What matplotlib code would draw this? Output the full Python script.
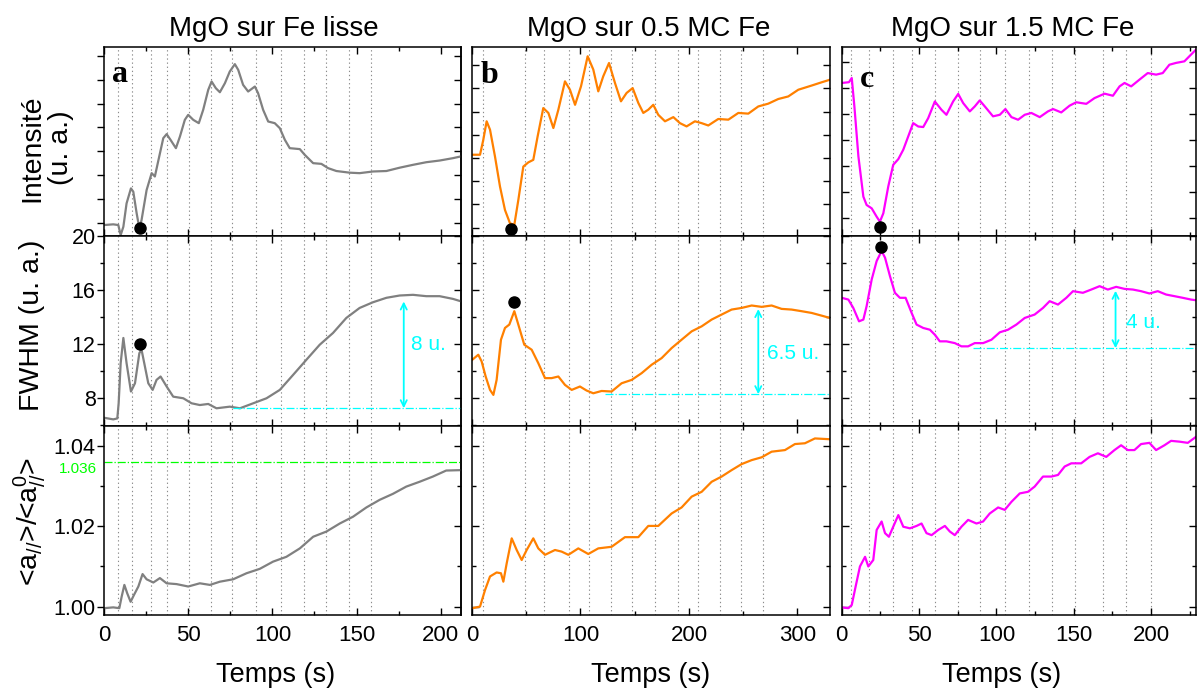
import numpy as np
import matplotlib
matplotlib.use('Agg')
import matplotlib.pyplot as plt
import matplotlib.transforms as mtrans
from matplotlib.ticker import MultipleLocator, NullFormatter, FormatStrFormatter

plt.rcParams['font.family'] = ['Liberation Sans', 'DejaVu Sans']
plt.rcParams['mathtext.fontset'] = 'custom'
plt.rcParams['mathtext.rm'] = 'Liberation Sans'
plt.rcParams['mathtext.it'] = 'Liberation Sans:italic'

# ---- column a : MgO sur Fe lisse ----
t_a_int = [0, 5.5, 8.5, 9.9, 11.5, 13.4, 16.0, 17.4, 19.4, 21.0, 22.3, 25.3, 28.3, 30.2, 32.8, 35.2, 37.2,
           39.5, 42.7, 45.1, 48.0, 50.0, 53.0, 56.3, 58.9, 61.9, 63.9, 66.4, 68.8, 71.8, 74.7, 77.7, 79.7,
           82.6, 85.6, 89.6, 91.5, 94.5, 97.5, 101.4, 104.4, 107.4, 110.3, 116.3, 119.2, 124.2, 129.1,
           133.1, 138.0, 145.9, 151.8, 159.7, 167.7, 175.6, 183.5, 191.4, 199.3, 207.2, 211.7]
int_a = [-0.10, -0.07, -0.10, -0.52, -0.17, 0.81, 1.44, 1.30, 0.39, -0.24, 0.11, 1.37, 2.08, 1.94, 2.78, 3.55,
         3.72, 3.48, 3.13, 3.62, 4.32, 4.53, 4.32, 4.18, 4.74, 5.58, 5.93, 5.65, 5.48, 5.86, 6.35, 6.66, 6.42,
         5.79, 5.51, 5.72, 5.44, 4.74, 4.25, 4.18, 3.97, 3.48, 3.13, 3.09, 2.85, 2.50, 2.47, 2.29, 2.17, 2.10,
         2.08, 2.15, 2.17, 2.31, 2.43, 2.54, 2.61, 2.71, 2.78]
t_a_fw = [0, 5.5, 7.9, 8.7, 9.9, 11.5, 13.4, 16.0, 18.4, 21.0, 22.3, 23.9, 26.3, 28.9, 31.2, 33.6, 37.2,
          41.1, 47.1, 52.0, 56.9, 61.9, 66.8, 74.7, 80.7, 88.6, 96.5, 104.4, 112.3, 120.2, 128.1, 136.0,
          143.9, 151.8, 159.7, 167.7, 175.6, 183.5, 191.4, 199.3, 207.2, 211.7]
fwhm_a = [6.56, 6.44, 6.51, 7.63, 10.6, 12.46, 10.6, 8.50, 9.11, 11.34, 11.59, 10.6, 9.11, 8.62, 9.36, 9.61,
          8.87, 8.12, 8.0, 7.63, 7.50, 7.58, 7.26, 7.38, 7.26, 7.63, 8.0, 8.62, 9.73, 10.85, 11.96, 12.83,
          13.94, 14.68, 15.10, 15.43, 15.60, 15.65, 15.55, 15.55, 15.35, 15.18]
t_a_r = [0, 5.5, 9.1, 10.5, 12.1, 13.8, 15.8, 17.8, 20.4, 22.9, 25.3, 29.3, 33.2, 37.2, 43.1, 50.0, 56.9,
         62.9, 68.8, 76.7, 84.6, 92.5, 100.4, 108.3, 116.3, 124.2, 132.1, 140.0, 147.9, 155.8, 163.7,
         171.6, 179.5, 187.4, 195.3, 203.2, 211.7]
ratio_a = [0.9996, 0.9998, 0.9996, 1.0025, 1.0054, 1.0033, 1.0012, 1.0029, 1.0050, 1.0081, 1.0068, 1.0060,
           1.0071, 1.0058, 1.0056, 1.0050, 1.0058, 1.0054, 1.0062, 1.0068, 1.0083, 1.0094, 1.0112, 1.0124,
           1.0145, 1.0174, 1.0187, 1.0207, 1.0224, 1.0247, 1.0266, 1.0281, 1.0299, 1.0311, 1.0324, 1.0339,
           1.0340]
grid_a = [8.5, 16.4, 27.9, 37.6, 50.2, 63.5, 76.1, 90.2, 105, 118.8, 131.7, 145.5, 158.8]

# ---- column b : MgO sur 0.5 MC Fe ----
t_b_int = [0.3, 7.4, 10.4, 13.5, 16.6, 21.2, 25.8, 30.4, 35.0, 39.0, 42.7, 47.3, 51.9, 56.5, 60.5, 65.7,
           70.4, 75.0, 79.6, 85.7, 90.3, 95.0, 100.5, 106.6, 111.8, 116.4, 121.0, 126.3, 131.8, 137.3, 142.5,
           148.1, 153.3, 157.9, 162.5, 167.1, 171.7, 177.9, 185.6, 191.7, 197.8, 205.5, 211.7, 217.8, 227.0,
           236.3, 245.5, 254.7, 263.9, 273.1, 282.3, 291.5, 300.8, 313.1, 322.3, 329.9]
int_b = [3.14, 3.14, 3.78, 4.58, 4.22, 3.06, 1.77, 0.76, 0.19, 0.12, 1.19, 2.63, 2.81, 2.92, 3.93, 5.15,
         4.94, 4.29, 5.08, 6.30, 5.94, 5.29, 6.09, 7.38, 6.81, 5.87, 6.52, 7.09, 6.23, 5.44, 5.80, 6.01, 5.37,
         4.94, 5.08, 5.29, 4.86, 4.58, 4.76, 4.50, 4.36, 4.58, 4.50, 4.40, 4.68, 4.65, 4.94, 4.91, 5.22, 5.34,
         5.54, 5.65, 5.94, 6.12, 6.26, 6.37]
t_b_fw = [0.3, 5.8, 8.9, 12.6, 16.6, 19.7, 22.7, 26.7, 30.4, 34.4, 39.0, 42.7, 48.2, 55.0, 61.1, 67.3,
          73.4, 79.6, 85.7, 91.9, 99.5, 105.7, 111.8, 119.5, 128.7, 137.9, 147.2, 156.4, 165.6, 174.8, 184.0,
          193.2, 202.5, 211.7, 220.9, 230.1, 239.3, 248.5, 257.8, 267.0, 276.2, 285.4, 294.6, 303.8, 313.1,
          322.3, 329.9]
fwhm_b = [10.85, 11.22, 10.72, 9.61, 8.62, 8.25, 9.36, 12.33, 13.20, 13.45, 14.44, 13.45, 11.96, 11.59,
          10.60, 9.49, 9.49, 9.61, 8.99, 8.62, 8.87, 8.57, 8.37, 8.54, 8.50, 9.11, 9.36, 9.86, 10.48, 10.97,
          11.71, 12.33, 12.95, 13.32, 13.82, 14.19, 14.56, 14.68, 14.86, 14.76, 14.86, 14.61, 14.56, 14.44,
          14.31, 14.11, 13.94]
t_b_r = [0.3, 7.4, 12.0, 16.6, 22.7, 26.7, 28.9, 32.0, 36.6, 41.2, 45.8, 50.4, 56.5, 61.1, 67.3, 76.5,
         82.6, 88.8, 98.0, 107.2, 116.4, 128.7, 141.0, 153.3, 162.5, 171.7, 184.0, 193.2, 202.5, 211.7, 220.9,
         230.1, 239.3, 248.5, 257.8, 267.0, 276.2, 288.5, 297.7, 306.9, 316.1, 329.9]
ratio_b = [0.9996, 1.0000, 1.0041, 1.0075, 1.0085, 1.0083, 1.0062, 1.0108, 1.0170, 1.0141, 1.0116, 1.0141,
           1.0170, 1.0145, 1.0129, 1.0141, 1.0137, 1.0129, 1.0145, 1.0131, 1.0145, 1.0149, 1.0173, 1.0173,
           1.0201, 1.0201, 1.0232, 1.0247, 1.0274, 1.0286, 1.0311, 1.0324, 1.0340, 1.0355, 1.0365, 1.0372,
           1.0386, 1.0390, 1.0405, 1.0407, 1.0419, 1.0417]
grid_b = [10.4, 49, 66.1, 89.1, 107.6, 127.9, 147.8, 169, 190.2, 208.6, 228.3, 247.9, 267.9]

# ---- column c : MgO sur 1.5 MC Fe ----
t_c_int = [0, 4.7, 6.5, 8.2, 10.8, 14.0, 16.1, 19.4, 22.6, 24.7, 26.9, 30.1, 33.3, 36.6, 39.8, 43.0, 46.2,
           49.5, 52.7, 55.9, 60.2, 64.5, 67.7, 72.0, 75.3, 78.5, 82.8, 86.0, 89.2, 92.5, 97.8, 102.2, 105.8,
           109.7, 114.0, 118.3, 122.6, 128.0, 133.3, 136.6, 141.9, 147.3, 151.6, 158.1, 163.4, 169.9, 175.3,
           179.6, 182.8, 187.1, 192.5, 197.8, 203.2, 207.5, 211.8, 216.1, 221.5, 225.8, 229.0]
int_c = [5.18, 5.21, 5.37, 4.28, 2.36, 0.82, 0.50, 0.37, 0.05, -0.14, 0.18, 1.21, 2.04, 2.26, 2.62, 3.13,
         3.64, 3.51, 3.49, 3.83, 4.47, 4.15, 3.96, 4.47, 4.76, 4.41, 4.09, 4.28, 4.51, 4.28, 3.90, 3.96, 4.18,
         3.87, 3.77, 3.96, 4.03, 3.87, 4.09, 4.18, 4.05, 4.31, 4.44, 4.38, 4.60, 4.77, 4.69, 5.05, 5.18, 5.05,
         5.31, 5.56, 5.50, 5.56, 5.88, 5.95, 6.01, 6.27, 6.46]
t_c_fw = [0, 4.3, 7.5, 11.2, 14.0, 16.1, 19.4, 22.6, 25.8, 28.0, 31.2, 34.4, 37.6, 41.3, 45.2, 48.4, 52.7,
          57.0, 60.2, 63.4, 67.7, 73.1, 77.4, 81.7, 86.0, 91.4, 96.8, 102.2, 107.5, 112.9, 118.3, 124.7,
          130.1, 134.4, 139.8, 145.2, 149.5, 155.9, 161.3, 166.7, 172.0, 177.4, 182.8, 188.2, 193.5, 198.9,
          204.3, 209.7, 215.1, 220.4, 225.8, 229.0]
fwhm_c = [15.43, 15.30, 14.68, 13.69, 13.82, 14.81, 16.79, 18.15, 18.89, 18.40, 17.03, 15.80, 15.43, 15.43,
          14.31, 13.45, 13.20, 13.07, 12.70, 12.21, 12.21, 12.08, 11.84, 11.84, 12.08, 12.08, 12.33, 12.88,
          13.07, 13.45, 13.94, 14.19, 14.68, 15.18, 14.93, 15.43, 15.92, 15.80, 16.04, 16.29, 16.04, 16.24,
          16.09, 16.04, 15.92, 15.75, 15.92, 15.67, 15.55, 15.43, 15.30, 15.25]
t_c_r = [0, 4.3, 6.5, 9.0, 11.8, 15.1, 17.2, 20.4, 22.6, 25.8, 28.0, 30.5, 33.3, 36.6, 39.8, 44.1, 48.4,
         51.6, 54.8, 58.1, 62.4, 66.7, 69.9, 73.1, 77.4, 81.7, 87.1, 91.4, 95.7, 101.1, 105.4, 109.7, 115.1,
         120.4, 124.7, 130.1, 135.5, 139.8, 144.1, 148.4, 154.8, 160.2, 165.6, 171.0, 176.3, 180.6, 184.9,
         189.2, 193.5, 198.9, 203.2, 208.6, 212.9, 218.3, 223.7, 229.0]
ratio_c = [0.9998, 0.9996, 1.0004, 1.0050, 1.0100, 1.0124, 1.0100, 1.0116, 1.0191, 1.0212, 1.0183, 1.0174,
           1.0199, 1.0228, 1.0199, 1.0195, 1.0201, 1.0207, 1.0183, 1.0178, 1.0191, 1.0201, 1.0187, 1.0178,
           1.0199, 1.0216, 1.0207, 1.0212, 1.0232, 1.0247, 1.0241, 1.0261, 1.0282, 1.0286, 1.0299, 1.0324,
           1.0324, 1.0328, 1.0349, 1.0357, 1.0357, 1.0373, 1.0382, 1.0373, 1.0390, 1.0402, 1.0390, 1.0390,
           1.0405, 1.0408, 1.0390, 1.0402, 1.0413, 1.0411, 1.0408, 1.0423]
grid_c = [5.8, 17.4, 33.4, 45.4, 60.2, 75.3, 89.7, 105.4, 121.3, 135.9, 150.5, 169, 184, 200]

# markers (black dots) : (t_int, y_int, t_fwhm, y_fwhm)
dots = [(21.4, -0.24, 21.4, 12.0), (35.6, -0.07, 38.7, 15.1), (24.7, -0.36, 25.2, 19.2)]
# cyan "height" annotations : (line start, base, arrow x, top, text x, text y, label)
deltas = [(76.7, 7.26, 178, 15.16, 182.5, 12.0, '8 u.'),
          (122.6, 8.3, 263.9, 14.6, 271.6, 11.3, '6.5 u.'),
          (84.9, 11.7, 177, 15.95, 183.9, 13.6, '4 u.')]

titles = ['MgO sur Fe lisse', 'MgO sur 0.5 MC Fe', 'MgO sur 1.5 MC Fe']
letters = ['a', 'b', 'c']
colors = ['#808080', '#ff8000', '#ff00ff']
xmax = [212, 330, 229]
xmaj = [50, 100, 50]
int_lims = [(-0.56, 7.38), (-0.36, 7.78), (-0.69, 6.56)]

data = [(t_a_int, int_a, t_a_fw, fwhm_a, t_a_r, ratio_a, grid_a),
        (t_b_int, int_b, t_b_fw, fwhm_b, t_b_r, ratio_b, grid_b),
        (t_c_int, int_c, t_c_fw, fwhm_c, t_c_r, ratio_c, grid_c)]

W, H = 1197, 691
cols = [(104, 461), (472, 830), (841.7, 1196)]
rows = [(47, 236), (236, 426), (426, 615)]
title_x = [274, 649, 1013]
xlabel_x = [276, 651, 1002]

fig = plt.figure(figsize=(W / 100, H / 100), dpi=100)

for ci in range(3):
    t_i, y_i, t_f, y_f, t_r, y_r, grid = data[ci]
    l, r = cols[ci]
    axs = []
    for ri in range(3):
        top, bot = rows[ri]
        ax = fig.add_axes([l / W, 1 - bot / H, (r - l) / W, (bot - top) / H])
        axs.append(ax)
        for g in grid:
            ax.axvline(g, color='#8c8c8c', ls=(0, (1.2, 2.5)), lw=0.8, zorder=0)
        ax.set_xlim(0, xmax[ci])
        ax.xaxis.set_major_locator(MultipleLocator(xmaj[ci]))
        ax.xaxis.set_minor_locator(MultipleLocator(xmaj[ci] / 2))
        ax.tick_params(axis='x', which='both', direction='in', top=True, bottom=True,
                       labelbottom=(ri == 2), labelsize=16, pad=7)
        ax.tick_params(which='major', length=5, width=1)
        ax.tick_params(which='minor', length=3, width=1)
        ax.tick_params(axis='y', which='both', direction='out' if ci == 0 else 'in',
                       right=(ci != 0), labelleft=(ci == 0), labelsize=15.5, pad=1)
        for s in ax.spines.values():
            s.set_linewidth(1.1)

    ax_i, ax_f, ax_r = axs
    ax_i.plot(t_i, y_i, color=colors[ci], lw=1.6)
    ax_i.set_ylim(*int_lims[ci])
    ax_i.yaxis.set_major_locator(MultipleLocator(1))
    ax_i.yaxis.set_major_formatter(NullFormatter())

    ax_f.plot(t_f, y_f, color=colors[ci], lw=1.6)
    ax_f.set_ylim(5.95, 20)
    ax_f.yaxis.set_major_locator(MultipleLocator(4))
    ax_f.yaxis.set_minor_locator(MultipleLocator(2))
    ax_f.yaxis.set_major_formatter(FormatStrFormatter('%d'))

    ax_r.plot(t_r, y_r, color=colors[ci], lw=1.6)
    ax_r.set_ylim(0.9979, 1.045)
    ax_r.yaxis.set_major_locator(MultipleLocator(0.02))
    ax_r.yaxis.set_minor_locator(MultipleLocator(0.01))
    ax_r.yaxis.set_major_formatter(FormatStrFormatter('%.2f'))

    if ci == 0:
        for ax in axs:
            sec = ax.secondary_yaxis('right')
            sec.yaxis.set_major_locator(ax.yaxis.get_major_locator())
            sec.yaxis.set_minor_locator(ax.yaxis.get_minor_locator())
            sec.tick_params(axis='y', which='both', direction='in', labelright=False)
            sec.tick_params(which='major', length=5, width=1)
            sec.tick_params(which='minor', length=3, width=1)
            sec.spines['right'].set_linewidth(1.1)

    # dots
    ti, yi, tf, yf = dots[ci]
    ax_i.plot(ti, yi, 'o', color='k', ms=8, clip_on=False, zorder=5)
    ax_f.plot(tf, yf, 'o', color='k', ms=8, clip_on=False, zorder=5)

    # cyan delta annotation
    x0, yb, xa, yt, xt, yt_txt, lab = deltas[ci]
    ax_f.plot([x0, xmax[ci]], [yb, yb], color='#00ffff', lw=0.9, ls='-.')
    ax_f.annotate('', xy=(xa, yt), xytext=(xa, yb),
                  arrowprops=dict(arrowstyle='<->', color='#00ffff', lw=1.3, mutation_scale=11,
                                  shrinkA=0, shrinkB=0))
    ax_f.text(xt, yt_txt, lab, color='#00ffff', fontsize=15, va='center', ha='left')

    # panel letter
    lx = [0.022, 0.025, 0.052][ci]
    ly = [0.815, 0.81, 0.79][ci]
    ax_i.text(lx, ly, letters[ci], transform=ax_i.transAxes, fontsize=23, fontweight='bold',
              family='Liberation Serif', va='baseline')

    fig.text(title_x[ci] / W, 1 - 36 / H, titles[ci], fontsize=20, ha='center', va='baseline')
    fig.text(xlabel_x[ci] / W, 1 - 682 / H, 'Temps (s)', fontsize=19.5, ha='center', va='baseline')

    if ci == 0:
        ax_r.axhline(1.036, color='#00ff00', ls='-.', lw=0.9)
        tr = mtrans.blended_transform_factory(ax_r.transAxes, ax_r.transData)
        ax_r.text(-0.02, 1.0360, '1.036', transform=tr, color='#00ff00', fontsize=11,
                  ha='right', va='top')

fig.text(47 / W, 1 - 148 / H, 'Intensité\n(u. a.)', fontsize=20.5, rotation=90, ha='center',
         va='center', linespacing=1.15, multialignment='center')
fig.text(32 / W, 1 - 325 / H, 'FWHM (u. a.)', fontsize=20.5, rotation=90, ha='center', va='center')
fig.text(30 / W, 1 - 522 / H, r'<a$_{//}$>/<a$_{//}^{0}$>', fontsize=20.5, rotation=90, ha='center',
         va='center')

fig.savefig('out.png', dpi=100)
